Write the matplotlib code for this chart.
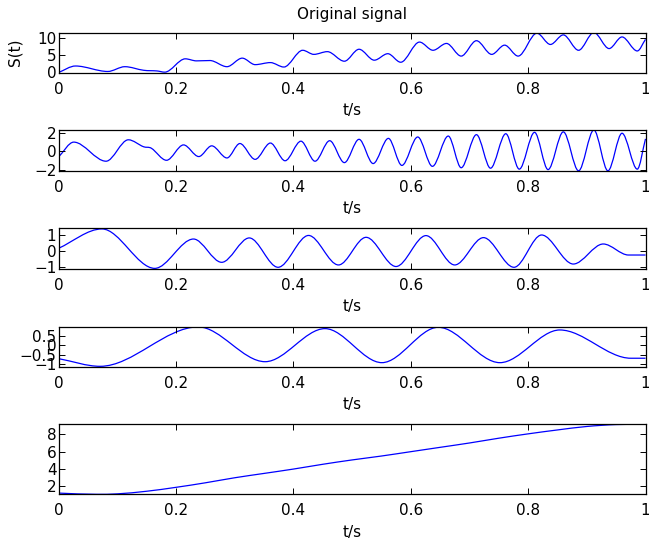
import numpy as np
import matplotlib
matplotlib.use("Agg")
import matplotlib.pyplot as plt
from matplotlib.path import Path
from matplotlib.patches import PathPatch

# turning points (t in s)
sig_t = [0, 0.029, 0.084, 0.113, 0.145, 0.168, 0.181, 0.216, 0.235, 0.258,
         0.287, 0.313, 0.335, 0.361, 0.384, 0.416, 0.435, 0.458, 0.487, 0.512,
         0.538, 0.561, 0.583, 0.615, 0.638, 0.661, 0.686, 0.712, 0.738, 0.760,
         0.783, 0.815, 0.838, 0.860, 0.886, 0.912, 0.938, 0.960, 0.986, 1.0]
sig_y = [0, 1.9, 0.3, 1.7, 0.65, 0.45, 0.1, 4.0, 3.4, 3.5,
         1.7, 4.2, 2.3, 2.9, 1.6, 6.5, 5.3, 6.1, 3.3, 6.8,
         3.6, 5.5, 3.0, 8.9, 6.5, 8.5, 4.8, 9.3, 5.3, 8.0,
         4.8, 11.5, 8.2, 11.0, 6.5, 11.7, 7.0, 10.4, 6.3, 9.7]

imf1_t = [0, 0.026, 0.081, 0.119, 0.145, 0.158, 0.184, 0.213, 0.239, 0.261,
          0.287, 0.309, 0.335, 0.361, 0.386, 0.413, 0.437, 0.462, 0.487, 0.512,
          0.536, 0.562, 0.585, 0.612, 0.637, 0.664, 0.686, 0.712, 0.736, 0.762,
          0.785, 0.811, 0.834, 0.860, 0.886, 0.912, 0.936, 0.960, 0.986, 1.0]
imf1_y = [-0.6, 1.0, -1.05, 1.25, 0.5, 0.35, -0.95, 0.7, -0.55, 0.6,
          -0.7, 0.85, -0.85, 0.9, -1.0, 1.1, -1.05, 1.15, -1.2, 1.3,
          -1.3, 1.4, -1.5, 1.55, -1.6, 1.65, -1.75, 1.8, -1.8, 1.9,
          -1.9, 2.05, -1.95, 2.1, -2.08, 2.3, -2.08, 1.95, -1.9, 1.35]

imf2_t = [0, 0.074, 0.164, 0.230, 0.278, 0.325, 0.374, 0.426, 0.477, 0.524,
          0.575, 0.626, 0.675, 0.724, 0.776, 0.823, 0.877, 0.928, 0.971, 1.0]
imf2_y = [0.17, 1.42, -1.12, 0.77, -0.73, 0.84, -1.05, 1.0, -0.9, 0.88,
          -1.0, 0.99, -0.9, 0.86, -1.05, 1.03, -0.84, 0.45, -0.26, -0.26]

imf3_t = [0, 0.071, 0.238, 0.352, 0.454, 0.551, 0.647, 0.752, 0.854, 0.975, 1.0]
imf3_y = [-0.70, -1.1, 0.95, -0.86, 0.86, -0.91, 0.93, -0.91, 0.79, -0.68, -0.68]

res_t = [0, 0.065, 0.1, 0.15, 0.2, 0.25, 0.3, 0.35, 0.4, 0.45, 0.5,
         0.55, 0.6, 0.65, 0.7, 0.75, 0.8, 0.85, 0.9, 0.95, 1.0]
res_y = [1.24, 1.1, 1.15, 1.45, 1.9, 2.42, 3.0, 3.5, 4.0, 4.55, 5.05,
         5.5, 6.0, 6.5, 7.0, 7.55, 8.05, 8.5, 8.9, 9.12, 9.15]

series = [(sig_t, sig_y), (imf1_t, imf1_y), (imf2_t, imf2_y),
          (imf3_t, imf3_y), (res_t, res_y)]
ylims = [(0, 11.7), (-2.1, 2.3), (-1.16, 1.46), (-1.12, 0.96), (1.1, 9.15)]
yticks = [[0, 5, 10], [-2, 0, 2], [-1, 0, 1], [-1, -0.5, 0, 0.5], [2, 4, 6, 8]]
ytick_labels = [["0", "5", "10"], ["\u22122", "0", "2"], ["\u22121", "0", "1"],
                ["\u22121", "\u22120.5", "0", "0.5"], ["2", "4", "6", "8"]]
xticks = [0, 0.2, 0.4, 0.6, 0.8, 1]
xtick_labels = ["0", "0.2", "0.4", "0.6", "0.8", "1"]

# axes boxes in pixels (top, bottom) of a 649x544 figure
boxes = [(32.5, 72.5), (130, 171), (228.3, 269), (326.7, 366.7), (424.3, 494.3)]


def smooth_line(ax, t, y):
    # cubic segments through the read points, flat at turning points
    t = np.asarray(t, float)
    y = np.asarray(y, float)
    n = len(t)
    slope = np.zeros(n)
    slope[0] = (y[1] - y[0]) / (t[1] - t[0])
    slope[-1] = (y[-1] - y[-2]) / (t[-1] - t[-2])
    for i in range(1, n - 1):
        if (y[i] - y[i - 1]) * (y[i + 1] - y[i]) > 0:
            slope[i] = (y[i + 1] - y[i - 1]) / (t[i + 1] - t[i - 1])
    verts = [(t[0], y[0])]
    codes = [Path.MOVETO]
    for i in range(n - 1):
        d = (t[i + 1] - t[i]) / 3
        verts += [(t[i] + d, y[i] + slope[i] * d),
                  (t[i + 1] - d, y[i + 1] - slope[i + 1] * d),
                  (t[i + 1], y[i + 1])]
        codes += [Path.CURVE4] * 3
    ax.add_patch(PathPatch(Path(verts, codes), facecolor="none",
                           edgecolor="#0000ff", lw=0.9))


W, H = 649, 544
fig = plt.figure(figsize=(W / 100, H / 100), dpi=100)
fs = 11

for k, (top, bot) in enumerate(boxes):
    ax = fig.add_axes([58.5 / W, 1 - bot / H, 587 / W, (bot - top) / H])
    t, y = series[k]
    smooth_line(ax, t, y)
    ax.set_xlim(0, 1)
    ax.set_ylim(*ylims[k])
    ax.set_xticks(xticks)
    ax.set_xticklabels(xtick_labels)
    ax.set_yticks(yticks[k])
    ax.set_yticklabels(ytick_labels[k])
    ax.tick_params(direction="in", top=True, right=True, length=4, width=0.7,
                   labelsize=fs)
    ax.tick_params(axis="x", pad=6.5)
    ax.tick_params(axis="y", pad=1.5)
    for sp in ax.spines.values():
        sp.set_linewidth(0.9)
    ax.set_xlabel("t/s", fontsize=fs, labelpad=4.5)
    if k == 0:
        ax.set_title("Original signal", fontsize=fs, pad=9.5)
        ax.set_ylabel("S(t)", fontsize=fs)
        ax.yaxis.set_label_coords(-0.062, 0.5)

fig.savefig("out.png", dpi=100)
